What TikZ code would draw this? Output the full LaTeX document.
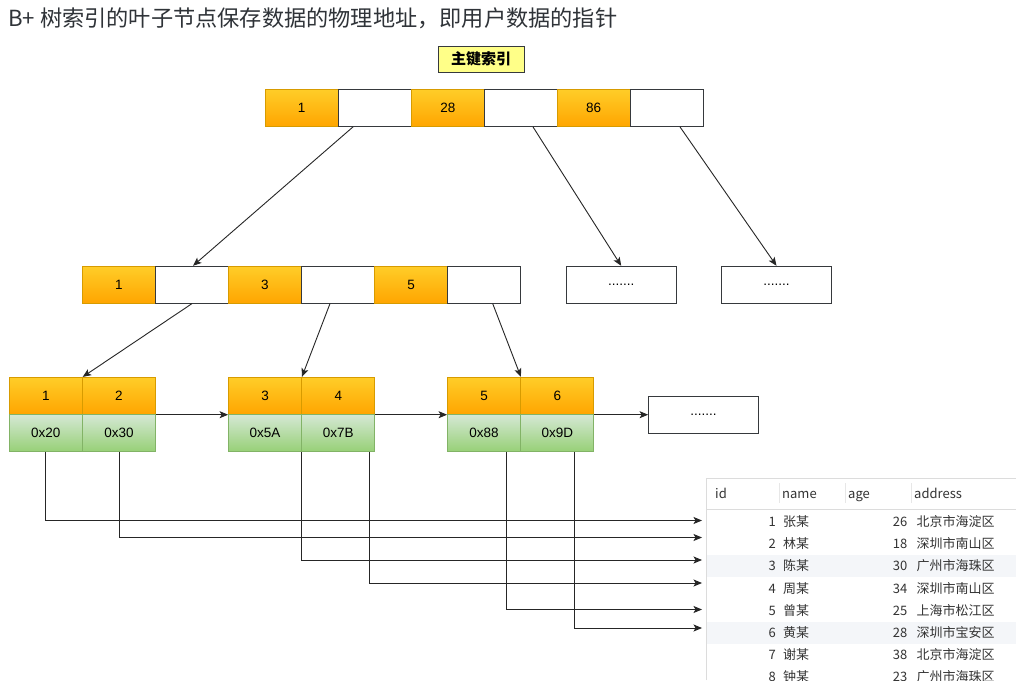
\documentclass[tikz,border=0pt]{standalone}
\usepackage{fontspec}
\setmainfont{Liberation Sans}
\newfontfamily\cjk{Noto Sans CJK SC}
\usetikzlibrary{arrows.meta,calc}
\definecolor{orT}{HTML}{FFCD28}
\definecolor{orB}{HTML}{FFA500}
\definecolor{orS}{HTML}{D79B00}
\definecolor{gnT}{HTML}{D5E8D4}
\definecolor{gnB}{HTML}{97D077}
\definecolor{gnS}{HTML}{82B366}
\definecolor{edge}{HTML}{36393D}
\definecolor{note}{HTML}{FFFF88}
\definecolor{ttl}{HTML}{2F3338}
\definecolor{tbtx}{HTML}{333333}
\definecolor{tbln}{HTML}{DCDCDC}
\definecolor{stripe}{HTML}{F4F6F9}
\begin{document}
\begin{tikzpicture}[x=1pt,y=-1pt,
  cell/.style={minimum width=73pt,minimum height=37pt,inner sep=0pt,line width=0.8pt,font=\fontsize{13.5}{14}\selectfont},
  okey/.style={cell,draw=orS,top color=orT,bottom color=orB},
  optr/.style={cell,draw=edge,fill=white},
  gaddr/.style={cell,draw=gnS,top color=gnT,bottom color=gnB},
  dots/.style={cell,draw=edge,fill=white,minimum width=110pt},
  arr/.style={line width=0.9pt,draw=black!85,-{Stealth[length=8.5pt,width=7pt,inset=2pt]}},
  tb/.style={font=\cjk\fontsize{13}{14}\selectfont,text=tbtx,inner sep=0pt},
]
\useasboundingbox (0,0) rectangle (1016,680);
\fill[white] (0,0) rectangle (1016,680);

% title
\node[anchor=west,inner sep=0pt,text=ttl,font=\cjk\fontsize{22.2}{24}\selectfont] (title) at (8,18) {B+ 树索引的叶子节点保存数据的物理地址，即用户数据的指针};
\node[draw=edge,fill=note,line width=0.8pt,minimum width=86pt,minimum height=26pt,inner sep=0pt,font=\cjk\bfseries\fontsize{15}{16}\selectfont] (pk) at (481,59) {主键索引};

% root
\node[okey] (t1) at (301.7,108) {1};
\node[optr] (t2) at (374.8,108) {};
\node[okey] (t3) at (447.8,108) {28};
\node[optr] (t4) at (520.7,108) {};
\node[okey] (t5) at (593.5,108) {86};
\node[optr] (t6) at (666.7,108) {};

% level 2
\node[okey] (m1) at (118.8,284.7) {1};
\node[optr] (m2) at (192,284.7) {};
\node[okey] (m3) at (264.8,284.7) {3};
\node[optr] (m4) at (337.8,284.7) {};
\node[okey] (m5) at (411,284.7) {5};
\node[optr] (m6) at (484.3,284.7) {};
\node[dots] (d1) at (621.2,284.7) {.......};
\node[dots] (d2) at (776.5,284.7) {.......};

% leaves
\node[okey] (l11) at (45.8,395.8) {1};
\node[okey] (l12) at (119,395.8) {2};
\node[gaddr] (g11) at (45.8,433) {0x20};
\node[gaddr] (g12) at (119,433) {0x30};
\node[okey] (l21) at (265,395.8) {3};
\node[okey] (l22) at (338.3,395.8) {4};
\node[gaddr] (g21) at (265,433) {0x5A};
\node[gaddr] (g22) at (338.3,433) {0x7B};
\node[okey] (l31) at (484,395.8) {5};
\node[okey] (l32) at (557.3,395.8) {6};
\node[gaddr] (g31) at (484,433) {0x88};
\node[gaddr] (g32) at (557.3,433) {0x9D};
\node[dots] (d3) at (703.5,414.7) {.......};

% tree arrows
\draw[arr] ([xshift=-21.8pt]t2.south) -- ([xshift=1pt]m2.north);
\draw[arr] ([xshift=12.3pt]t4.south) -- (d1.north);
\draw[arr] ([xshift=13.3pt]t6.south) -- (d2.north);
\draw[arr] (m2.south) -- (l11.north east);
\draw[arr] ([xshift=-7.8pt]m4.south) -- (l21.north east);
\draw[arr] ([xshift=8.4pt]m6.south) -- (l31.north east);
\draw[arr] (l12.south east) -- (l21.south west);
\draw[arr] (l22.south east) -- (l31.south west);
\draw[arr] (l32.south east) -- (d3.west);

% table
\fill[stripe] (707,555) rectangle (1016,577);
\fill[stripe] (707,622) rectangle (1016,644);
\draw[tbln,line width=0.8pt] (706,680) -- (706,478) -- (1016,478);
\draw[tbln,line width=0.8pt] (706,509) -- (1016,509);
\draw[tbln!70,line width=0.6pt] (779,483) -- (779,503) (845.7,483) -- (845.7,503) (911.7,483) -- (911.7,503);
\node[tb,anchor=base west] (hid) at (715,498.7) {id};
\node[tb,anchor=base west] (hname) at (782,498.7) {name};
\node[tb,anchor=base west] (hage) at (848,498.7) {age};
\node[tb,anchor=base west] (haddr) at (914,498.7) {address};

\foreach \i/\n/\a/\ad [count=\k] in {1/张某/26/北京市海淀区,2/林某/18/深圳市南山区,3/陈某/30/广州市海珠区,4/周某/34/深圳市南山区,5/曾某/25/上海市松江区,6/黄某/28/深圳市宝安区,7/谢某/38/北京市海淀区,8/钟某/23/广州市海珠区}{
  \pgfmathsetmacro{\yy}{526.4+22.2*(\k-1)}
  \node[tb,anchor=base east] (id\k) at (776,\yy) {\i};
  \node[tb,anchor=base west] (nm\k) at (783,\yy) {\n};
  \node[tb,anchor=base east] (ag\k) at (907.5,\yy) {\a};
  \node[tb,anchor=base west] (ad\k) at (916.5,\yy) {\ad};
}

% pointer arrows
\coordinate (r1) at (702,520.5);
\coordinate (r2) at (702,537.5);
\coordinate (r3) at (702,560);
\coordinate (r4) at (702,583);
\coordinate (r5) at (702,609.5);
\coordinate (r6) at (702,628);
\draw[arr] (g11.south) |- (r1);
\draw[arr] (g12.south) |- (r2);
\draw[arr] (g21.south east) |- (r3);
\draw[arr] ([xshift=-6pt]g22.south east) |- (r4);
\draw[arr] ([xshift=22.7pt]g31.south) |- (r5);
\draw[arr] ([xshift=17pt]g32.south) |- (r6);
\end{tikzpicture}
\end{document}
